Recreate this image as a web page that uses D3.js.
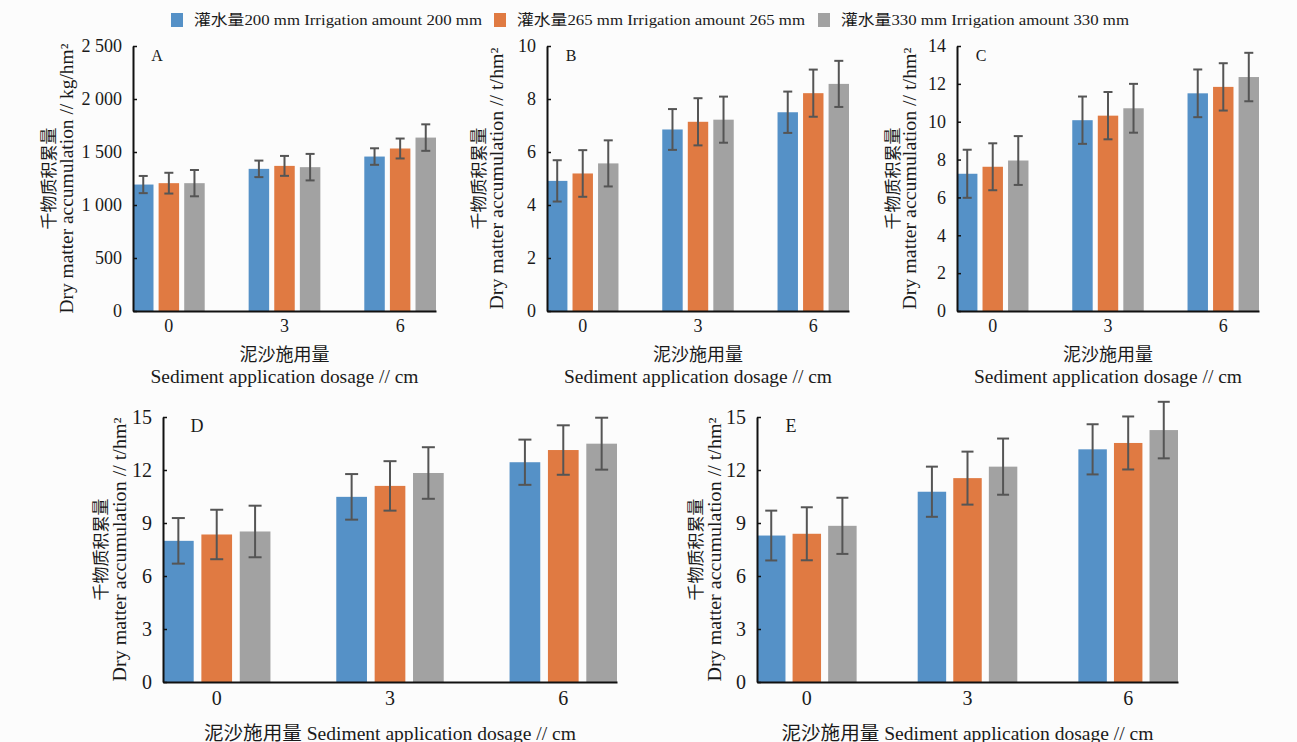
<!DOCTYPE html>
<html>
<head>
<meta charset="utf-8">
<script src="https://cdn.jsdelivr.net/npm/d3@7"></script>
<style>
  body { margin: 0; background: #fcfcfc; }
  svg { display: block; }
  text { font-family: "Liberation Serif", "Noto Sans CJK SC", serif; fill: #1a1a1a; }
</style>
</head>
<body>
<div id="chart"></div>
<script>
// ---- data ----
var groups = ["0", "3", "6"];
var seriesNames = ["灌水量200 mm Irrigation amount 200 mm", "灌水量265 mm Irrigation amount 265 mm", "灌水量330 mm Irrigation amount 330 mm"];
var colors = ["#5591c7", "#e07a42", "#a2a2a2"];

// panel A (kg/hm2)
var aMean = [[1193, 1341, 1457], [1206, 1369, 1533], [1206, 1357, 1636]];
var aErr  = [[81, 78, 78], [98, 94, 94], [124, 125, 125]];
// panel B (t/hm2)
var bMean = [[4.91, 6.85, 7.50], [5.19, 7.14, 8.22], [5.57, 7.22, 8.57]];
var bErr  = [[0.78, 0.77, 0.78], [0.88, 0.89, 0.89], [0.87, 0.87, 0.87]];
// panel C
var cMean = [[7.25, 10.08, 11.50], [7.62, 10.32, 11.84], [7.95, 10.71, 12.36]];
var cErr  = [[1.27, 1.25, 1.26], [1.24, 1.25, 1.25], [1.29, 1.29, 1.28]];
// panel D
var dMean = [[7.99, 10.48, 12.44], [8.35, 11.10, 13.13], [8.52, 11.83, 13.49]];
var dErr  = [[1.29, 1.29, 1.28], [1.40, 1.40, 1.40], [1.46, 1.46, 1.47]];
// panel E
var eMean = [[8.29, 10.77, 13.17], [8.39, 11.54, 13.53], [8.84, 12.19, 14.26]];
var eErr  = [[1.41, 1.42, 1.42], [1.50, 1.50, 1.50], [1.59, 1.59, 1.60]];

var yTicksA = [0, 500, 1000, 1500, 2000, 2500];
var yTicksB = [0, 2, 4, 6, 8, 10];
var yTicksC = [0, 2, 4, 6, 8, 10, 12, 14];
var yTicksDE = [0, 3, 6, 9, 12, 15];

var yTitleCn = "千物质积累量";
var xTitleCn = "泥沙施用量";
var xTitleEn = "Sediment application dosage // cm";

// ---- layout ----
var W = 1297, H = 742;
var svg = d3.select("#chart").append("svg").attr("width", W).attr("height", H);

var panels = [
  {id: "A", mean: aMean, err: aErr, ticks: yTicksA, max: 2500, unit: "kg/hm²",
   x0: 133, x1: 436, top: 46, bot: 311, tickFont: 18, cap: 9, cnX: 86, enX: 66, enLen: 270,
   splitTitle: true},
  {id: "B", mean: bMean, err: bErr, ticks: yTicksB, max: 10, unit: "t/hm²",
   x0: 547, x1: 849, top: 46, bot: 311, tickFont: 18, cap: 9, cnX: 70, enX: 50, enLen: 262,
   splitTitle: true},
  {id: "C", mean: cMean, err: cErr, ticks: yTicksC, max: 14, unit: "t/hm²",
   x0: 957, x1: 1259, top: 46, bot: 311, tickFont: 18, cap: 9, cnX: 66, enX: 47, enLen: 262,
   splitTitle: true},
  {id: "D", mean: dMean, err: dErr, ticks: yTicksDE, max: 15, unit: "t/hm²",
   x0: 163, x1: 617, top: 417, bot: 682, tickFont: 20, cap: 13, cnX: 64, enX: 43, enLen: 264,
   splitTitle: false},
  {id: "E", mean: eMean, err: eErr, ticks: yTicksDE, max: 15, unit: "t/hm²",
   x0: 757, x1: 1178, top: 417, bot: 682, tickFont: 20, cap: 12, cnX: 63, enX: 42, enLen: 264,
   splitTitle: false}
];

function fmtTick(v) {
  // thousands separated by a space, like "2 500"
  var s = String(v);
  if (v >= 1000) s = s.slice(0, s.length - 3) + " " + s.slice(s.length - 3);
  return s;
}

panels.forEach(function(p) {
  var g = svg.append("g");

  var x = d3.scaleBand().domain(groups).range([p.x0, p.x1]).paddingInner(0.38).paddingOuter(0);
  var xs = d3.scaleBand().domain(d3.range(seriesNames.length)).range([0, x.bandwidth()]).paddingInner(0.2);
  var y = d3.scaleLinear().domain([0, p.max]).range([p.bot, p.top]);

  // bars
  var rows = [];
  p.mean.forEach(function(vals, si) {
    vals.forEach(function(v, gi) {
      rows.push({s: si, g: groups[gi], v: v, e: p.err[si][gi]});
    });
  });

  g.selectAll("rect.bar").data(rows).enter().append("rect")
    .attr("class", "bar")
    .attr("x", function(d) { return x(d.g) + xs(d.s); })
    .attr("width", xs.bandwidth())
    .attr("y", function(d) { return y(d.v); })
    .attr("height", function(d) { return y(0) - y(d.v); })
    .attr("fill", function(d) { return colors[d.s]; });

  // error bars
  var eb = g.selectAll("g.err").data(rows).enter().append("g")
    .attr("class", "err")
    .attr("stroke", "#555555").attr("stroke-width", 2);
  eb.append("line")
    .attr("x1", function(d) { return x(d.g) + xs(d.s) + xs.bandwidth() / 2; })
    .attr("x2", function(d) { return x(d.g) + xs(d.s) + xs.bandwidth() / 2; })
    .attr("y1", function(d) { return y(d.v + d.e); })
    .attr("y2", function(d) { return y(d.v - d.e); });
  [1, -1].forEach(function(sgn) {
    eb.append("line")
      .attr("x1", function(d) { return x(d.g) + xs(d.s) + xs.bandwidth() / 2 - p.cap / 2; })
      .attr("x2", function(d) { return x(d.g) + xs(d.s) + xs.bandwidth() / 2 + p.cap / 2; })
      .attr("y1", function(d) { return y(d.v + sgn * d.e); })
      .attr("y2", function(d) { return y(d.v + sgn * d.e); });
  });

  // y axis, inward ticks
  var yAxis = g.append("g").attr("transform", "translate(" + p.x0 + ",0)")
    .call(d3.axisLeft(y).tickValues(p.ticks).tickSizeInner(-4).tickSizeOuter(0).tickPadding(11).tickFormat(fmtTick));
  yAxis.select(".domain").attr("stroke", "#111").attr("stroke-width", 2);
  yAxis.selectAll(".tick line").attr("stroke", "#111").attr("stroke-width", 1.5);
  yAxis.selectAll(".tick text").attr("font-size", p.tickFont)
    .style("font-family", "'Liberation Serif', serif").attr("fill", "#1a1a1a");

  // x axis, no ticks
  var xAxis = g.append("g").attr("transform", "translate(0," + p.bot + ")")
    .call(d3.axisBottom(x).tickSize(0).tickPadding(p.splitTitle ? 8 : 9));
  xAxis.select(".domain").attr("stroke", "#111").attr("stroke-width", 2);
  xAxis.selectAll(".tick text").attr("font-size", p.tickFont)
    .style("font-family", "'Liberation Serif', serif").attr("fill", "#1a1a1a");

  // panel letter
  g.append("text")
    .attr("x", p.x0 + (p.splitTitle ? 24 : 34)).attr("y", p.top + 9)
    .attr("dominant-baseline", "central").attr("text-anchor", "middle")
    .attr("font-size", p.splitTitle ? 16 : 18)
    .text(p.id);

  // y title (two rotated lines)
  var yc = (p.top + p.bot) / 2;
  g.append("text")
    .attr("transform", "translate(" + (p.x0 - p.cnX) + "," + yc + ") rotate(-90)")
    .attr("text-anchor", "middle").attr("dominant-baseline", "central")
    .attr("font-size", 17)
    .attr("textLength", 102).attr("lengthAdjust", "spacingAndGlyphs")
    .style("font-family", "'Noto Sans CJK SC', sans-serif")
    .text(yTitleCn);
  g.append("text")
    .attr("transform", "translate(" + (p.x0 - p.enX) + "," + yc + ") rotate(-90)")
    .attr("text-anchor", "middle").attr("dominant-baseline", "central")
    .attr("font-size", 18)
    .attr("textLength", p.enLen).attr("lengthAdjust", "spacingAndGlyphs")
    .text("Dry matter accumulation // " + p.unit);

  // x title
  var xc = (p.x0 + p.x1) / 2;
  if (p.splitTitle) {
    g.append("text")
      .attr("x", xc).attr("y", p.bot + 42)
      .attr("text-anchor", "middle").attr("dominant-baseline", "central")
      .attr("font-size", 18)
      .style("font-family", "'Noto Sans CJK SC', sans-serif")
      .text(xTitleCn);
    g.append("text")
      .attr("x", xc).attr("y", p.bot + 66)
      .attr("text-anchor", "middle").attr("dominant-baseline", "central")
      .attr("font-size", 18)
      .attr("textLength", 268).attr("lengthAdjust", "spacingAndGlyphs")
      .text(xTitleEn);
  } else {
    g.append("text")
      .attr("x", xc).attr("y", p.bot + 51)
      .attr("text-anchor", "middle").attr("dominant-baseline", "central")
      .attr("font-size", 19)
      .attr("textLength", 372).attr("lengthAdjust", "spacingAndGlyphs")
      .text(xTitleCn + " " + xTitleEn);
  }
});

// ---- legend ----
var legendX = [171, 494, 818];
var legend = svg.append("g");
seriesNames.forEach(function(name, i) {
  legend.append("rect")
    .attr("x", legendX[i]).attr("y", 13).attr("width", 12).attr("height", 14)
    .attr("fill", colors[i]);
  legend.append("text")
    .attr("x", legendX[i] + 23).attr("y", 20)
    .attr("dominant-baseline", "central")
    .attr("font-size", 15)
    .attr("textLength", 288).attr("lengthAdjust", "spacingAndGlyphs")
    .text(name);
});
</script>
</body>
</html>
